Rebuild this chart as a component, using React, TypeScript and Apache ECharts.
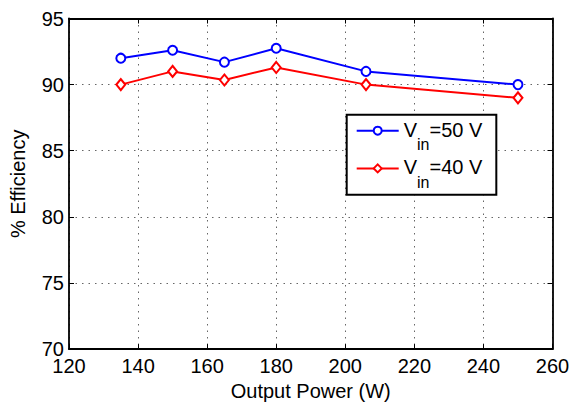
import React, { useEffect, useRef } from "react";
import * as echarts from "echarts";

const powerW = [135, 150, 165, 180, 206, 250];
const eff50 = [92.0, 92.6, 91.7, 92.75, 91.0, 90.0];
const eff40 = [90.0, 91.0, 90.35, 91.3, 90.0, 89.0];
const xTicks = { min: 120, max: 260, interval: 20 };
const yTicks = { min: 70, max: 95, interval: 5 };
const seriesNames = ["Vin=50 V", "Vin=40 V"];
const legendSuffix = ["=50 V", "=40 V"];

const FONT = "'Liberation Sans', Arial, Helvetica, sans-serif";

export default function App() {
  const ref = useRef<HTMLDivElement>(null);
  useEffect(() => {
    if (!ref.current) return;
    const chart = echarts.init(ref.current, null, { renderer: "svg" });
    const grid = { left: 65.7, right: 20.5, top: 18.5, bottom: 51.7 };
    const tickStyle = { show: true, inside: true, length: 5, lineStyle: { color: "#000", width: 1 } };
    const splitLine = { show: true, lineStyle: { color: "#666", type: [1.5, 5] as any, width: 1 } };
    const axisLine = { show: true, onZero: false, lineStyle: { color: "#000", width: 1.8 } };
    const labelStyle = { color: "#000", fontSize: 20, fontFamily: FONT };
    const rich = {
      v: { fontSize: 20, fontFamily: FONT, color: "#000", verticalAlign: "top", lineHeight: 22 },
      s: { fontSize: 16, fontFamily: FONT, color: "#000", verticalAlign: "top", lineHeight: 16, padding: [17, 0, 0, 0] },
    };
    chart.setOption({
      animation: false,
      backgroundColor: "#fff",
      grid,
      xAxis: [
        {
          type: "value",
          min: xTicks.min,
          max: xTicks.max,
          interval: xTicks.interval,
          position: "bottom",
          axisLine,
          axisTick: tickStyle,
          splitLine,
          axisLabel: { ...labelStyle, margin: 7 },
          name: "Output Power (W)",
          nameLocation: "middle",
          nameGap: 29.5,
          nameTextStyle: { color: "#000", fontSize: 20, fontFamily: FONT },
        },
        {
          type: "value",
          min: xTicks.min,
          max: xTicks.max,
          interval: xTicks.interval,
          position: "top",
          axisLine,
          axisTick: tickStyle,
          splitLine: { show: false },
          axisLabel: { show: false },
        },
      ],
      yAxis: [
        {
          type: "value",
          min: yTicks.min,
          max: yTicks.max,
          interval: yTicks.interval,
          position: "left",
          axisLine,
          axisTick: tickStyle,
          splitLine,
          axisLabel: { ...labelStyle, margin: 5 },
          name: "% Efficiency",
          nameLocation: "middle",
          nameGap: 41,
          nameTextStyle: { color: "#000", fontSize: 20, fontFamily: FONT },
        },
        {
          type: "value",
          min: yTicks.min,
          max: yTicks.max,
          interval: yTicks.interval,
          position: "right",
          axisLine,
          axisTick: tickStyle,
          splitLine: { show: false },
          axisLabel: { show: false },
        },
      ],
      legend: {
        left: 346.7,
        top: 114.7,
        orient: "vertical",
        backgroundColor: "#fff",
        borderColor: "#000",
        borderWidth: 2,
        borderRadius: 0,
        padding: [5, 14, 4.4, 9],
        itemGap: 4.7,
        itemWidth: 42,
        itemHeight: 10,
        textStyle: { rich, color: "#000", fontSize: 20, fontFamily: FONT },
        formatter: (name: string) => "{v|V}{s|in}{v|" + legendSuffix[seriesNames.indexOf(name)] + "}",
        data: seriesNames,
      },
      series: [
        {
          name: seriesNames[0],
          type: "line",
          data: powerW.map((p, i) => [p, eff50[i]]),
          symbol: "circle",
          symbolSize: 9,
          showAllSymbol: true,
          lineStyle: { color: "#0000ff", width: 2 },
          itemStyle: { color: "#fff", borderColor: "#0000ff", borderWidth: 2 },
          color: "#0000ff",
        },
        {
          name: seriesNames[1],
          type: "line",
          data: powerW.map((p, i) => [p, eff40[i]]),
          symbol: "diamond",
          symbolSize: [9, 11],
          showAllSymbol: true,
          lineStyle: { color: "#ff0000", width: 2 },
          itemStyle: { color: "#fff", borderColor: "#ff0000", borderWidth: 2 },
          color: "#ff0000",
        },
      ],
    });
    return () => chart.dispose();
  }, []);
  return (
    <div
      ref={ref}
      style={{ position: "fixed", left: 0, top: 0, width: 573, height: 406, background: "#fff" }}
    />
  );
}
